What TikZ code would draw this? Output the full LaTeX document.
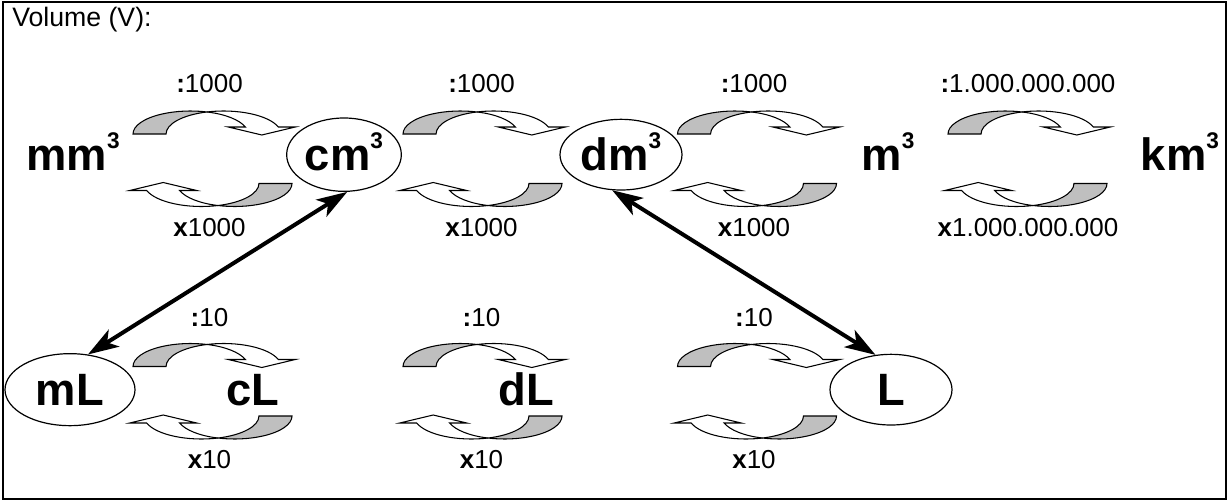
\documentclass[tikz,border=0pt]{standalone}
\usepackage{fontspec}
\setmainfont{Liberation Sans}
\usepackage{tikz}
\usetikzlibrary{shapes.geometric, % for ellipses
                arrows.meta, % for the double arrows
                positioning}

\newcommand{\cb}{\raisebox{16pt}{\fontsize{17}{17}\selectfont 3}}

\tikzset{
  curlarrow/.pic={
    % grey back of the band
    \filldraw[fill=black!25, line width=0.8pt] (-82,-11)
      arc[start angle=180, end angle=73.3, x radius=57.5, y radius=23]
      arc[start angle=106.7, end angle=180, x radius=57.5, y radius=23] -- cycle;
    % white front of the band with its head
    \filldraw[fill=white, line width=0.8pt] (-8,11.03)
      arc[start angle=106.7, end angle=17.7, x radius=57.5, y radius=23]
      -- (80.3,-4) -- (46.8,-12) -- (13.3,-4) -- (30.28,-4)
      arc[start angle=17.7, end angle=73.3, x radius=57.5, y radius=23] -- cycle;
  }
}

\begin{document}
\begin{tikzpicture}[x=0.75pt, y=0.75pt,
                    bigunit/.style={font=\fontsize{34}{34}\selectfont\bfseries, inner sep=0, anchor=base},
                    unitring/.style={bigunit, draw, ellipse, line width=0.9pt, text height=24pt, text depth=1pt},
                    factor/.style={font=\fontsize{19.5}{19.5}\selectfont, inner sep=0, anchor=base},
                    convarrow/.style={{Stealth[length=23pt, width=15pt, inset=6pt]}-{Stealth[length=23pt, width=15pt, inset=6pt]}, line width=3pt}
                    ]
    \useasboundingbox (0,0) rectangle (1228,501);
    \draw[line width=1.2pt] (3,2) rectangle (1226,499);
    \node[factor, font=\fontsize{20}{20}\selectfont, anchor=base west] (title) at (12,474) {Volume (V):};

    % cubic units
    \node[bigunit] (mmc) at (73,331) {mm\cb};
    \node[unitring, minimum width=86pt, minimum height=55pt] (cmc) at (344,331) {cm\cb};
    \node[unitring, minimum width=91.5pt, minimum height=53pt] (dmc) at (621,331) {dm\cb};
    \node[bigunit] (mc) at (888,331) {m\cb};
    \node[bigunit] (kmc) at (1180,331) {km\cb};

    % litre units
    \node[unitring, minimum width=97.5pt, minimum height=54pt] (ml) at (70,96) {mL};
    \node[bigunit] (cl) at (253,96) {cL};
    \node[bigunit] (dl) at (526,96) {dL};
    \node[unitring, minimum width=91.5pt, minimum height=53pt] (lit) at (891,96) {L};

    % curved arrows, upper row
    \pic at (215,378) {curlarrow};
    \pic[rotate=180] at (210,306.5) {curlarrow};
    \pic at (485,378) {curlarrow};
    \pic[rotate=180] at (480,306.5) {curlarrow};
    \pic at (759.5,378) {curlarrow};
    \pic[rotate=180] at (754.5,306.5) {curlarrow};
    \pic at (1030,378) {curlarrow};
    \pic[rotate=180] at (1025,306.5) {curlarrow};

    % curved arrows, lower row
    \pic at (215,145.5) {curlarrow};
    \pic[rotate=180] at (210,74) {curlarrow};
    \pic at (485,145.5) {curlarrow};
    \pic[rotate=180] at (480,74) {curlarrow};
    \pic at (759.5,145.5) {curlarrow};
    \pic[rotate=180] at (754.5,74) {curlarrow};

    % factors
    \node[factor] (div1) at (209.5,408) {\textbf{:}1000};
    \node[factor] (mul1) at (209.5,265) {\textbf{x}1000};
    \node[factor] (div2) at (481.5,408) {\textbf{:}1000};
    \node[factor] (mul2) at (481.5,265) {\textbf{x}1000};
    \node[factor] (div3) at (754,408) {\textbf{:}1000};
    \node[factor] (mul3) at (754,265) {\textbf{x}1000};
    \node[factor] (div4) at (1028,408) {\textbf{:}1.000.000.000};
    \node[factor] (mul4) at (1028,265) {\textbf{x}1.000.000.000};
    \node[factor] (div5) at (209.5,175) {\textbf{:}10};
    \node[factor] (mul5) at (209.5,33) {\textbf{x}10};
    \node[factor] (div6) at (481.5,175) {\textbf{:}10};
    \node[factor] (mul6) at (481.5,33) {\textbf{x}10};
    \node[factor] (div7) at (754,175) {\textbf{:}10};
    \node[factor] (mul7) at (754,33) {\textbf{x}10};

    % equal volumes
    \draw[convarrow] (cmc.275) -- (ml.63);
    \draw[convarrow] (dmc.256) -- (lit.114);
\end{tikzpicture}
\end{document}
